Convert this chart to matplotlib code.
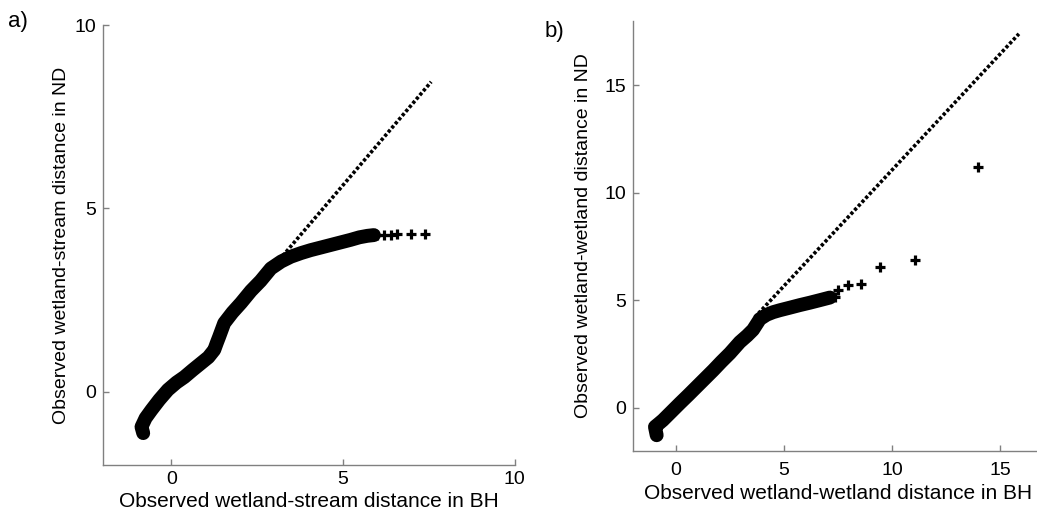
import numpy as np
import matplotlib.pyplot as plt

plt.rcParams['font.family'] = ['Liberation Sans', 'DejaVu Sans']

# panel a: quantiles (BH vs ND, wetland-stream)
a_x = [-0.82, -0.87, -0.75, -0.58, -0.35, -0.10, 0.15, 0.38, 0.62, 0.87,
       1.08, 1.25, 1.32, 1.39, 1.54, 1.78, 2.03, 2.32, 2.60, 2.90, 3.20,
       3.48, 3.78, 4.06, 4.35, 4.64, 4.93, 5.22, 5.48, 5.71, 5.90]
a_y = [-1.13, -0.96, -0.72, -0.50, -0.22, 0.05, 0.25, 0.40, 0.59, 0.78,
       0.94, 1.14, 1.32, 1.49, 1.87, 2.16, 2.42, 2.75, 3.02, 3.36, 3.55,
       3.68, 3.78, 3.86, 3.93, 4.00, 4.07, 4.14, 4.21, 4.25, 4.27]
a_tail_x = [6.00, 6.19, 6.40, 6.58, 6.97, 7.40]
a_tail_y = [4.27, 4.28, 4.28, 4.29, 4.29, 4.30]
a_ref_x = [3.14, 7.57]
a_ref_y = [3.59, 8.45]

# panel b: quantiles (BH vs ND, wetland-wetland)
b_x = [-0.89, -0.97, -0.80, -0.60, -0.20, 0.19, 0.58, 0.96, 1.35, 1.73,
       2.10, 2.50, 2.96, 3.30, 3.57, 3.89, 4.20, 4.50, 4.81, 5.28, 5.74,
       6.20, 6.67, 7.13]
b_y = [-1.28, -0.89, -0.75, -0.58, -0.18, 0.21, 0.59, 0.97, 1.36, 1.74,
       2.13, 2.53, 3.05, 3.35, 3.62, 4.12, 4.32, 4.44, 4.53, 4.65, 4.77,
       4.88, 5.00, 5.12]
b_tail_x = [7.36, 7.50, 7.96, 8.55, 9.44, 11.07, 14.00]
b_tail_y = [5.15, 5.47, 5.70, 5.73, 6.55, 6.86, 11.17]
b_ref_x = [3.65, 15.88]
b_ref_y = [4.20, 17.38]

gray = '#808080'

def style_axes(ax, pad):
    for s in ['top', 'right']:
        ax.spines[s].set_visible(False)
    for s in ['left', 'bottom']:
        ax.spines[s].set_color(gray)
        ax.spines[s].set_linewidth(1.0)
    ax.tick_params(direction='in', length=4, width=1, color=gray, labelsize=14)
    ax.tick_params(axis='y', pad=5)
    ax.tick_params(axis='x', pad=pad)

def qq_panel(ax, x, y, tx, ty, rx, ry):
    # dotted reference line, then the dense quantile band and the sparse tail
    ax.plot(rx, ry, color='black', lw=2.6, ls=(0, (0.9, 0.6)))
    ax.plot(x, y, color='black', lw=10, solid_capstyle='round')
    ax.plot(x + tx, y + ty, ls='none', marker='+', ms=7, mew=2.3, color='black')

fig = plt.figure(figsize=(10.37, 5.29), dpi=100)

ax1 = fig.add_axes([102.7 / 1037, 64 / 529, 411.9 / 1037, 440 / 529])
qq_panel(ax1, a_x, a_y, a_tail_x, a_tail_y, a_ref_x, a_ref_y)
ax1.set_xlim(-2, 10)
ax1.set_ylim(-2, 10)
ax1.set_xticks([0, 5, 10])
ax1.set_yticks([0, 5, 10])
style_axes(ax1, 4)
ax1.set_xlabel('Observed wetland-stream distance in BH', fontsize=15, labelpad=3)
ax1.set_ylabel('Observed wetland-stream distance in ND', fontsize=14, labelpad=3)

ax2 = fig.add_axes([632.7 / 1037, 78.3 / 529, 410.4 / 1037, 430.2 / 529])
qq_panel(ax2, b_x, b_y, b_tail_x, b_tail_y, b_ref_x, b_ref_y)
ax2.set_xlim(-2, 17)
ax2.set_ylim(-2, 18)
ax2.set_xticks([0, 5, 10, 15])
ax2.set_yticks([0, 5, 10, 15])
style_axes(ax2, 8)
ax2.set_xlabel('Observed wetland-wetland distance in BH', fontsize=15, labelpad=4)
ax2.set_ylabel('Observed wetland-wetland distance in ND', fontsize=14, labelpad=9)

fig.text(8 / 1037, 1 - 21 / 529, 'a)', fontsize=16, va='center', ha='left')
fig.text(545 / 1037, 1 - 32 / 529, 'b)', fontsize=16, va='center', ha='left')

fig.savefig('out.png', dpi=100)
